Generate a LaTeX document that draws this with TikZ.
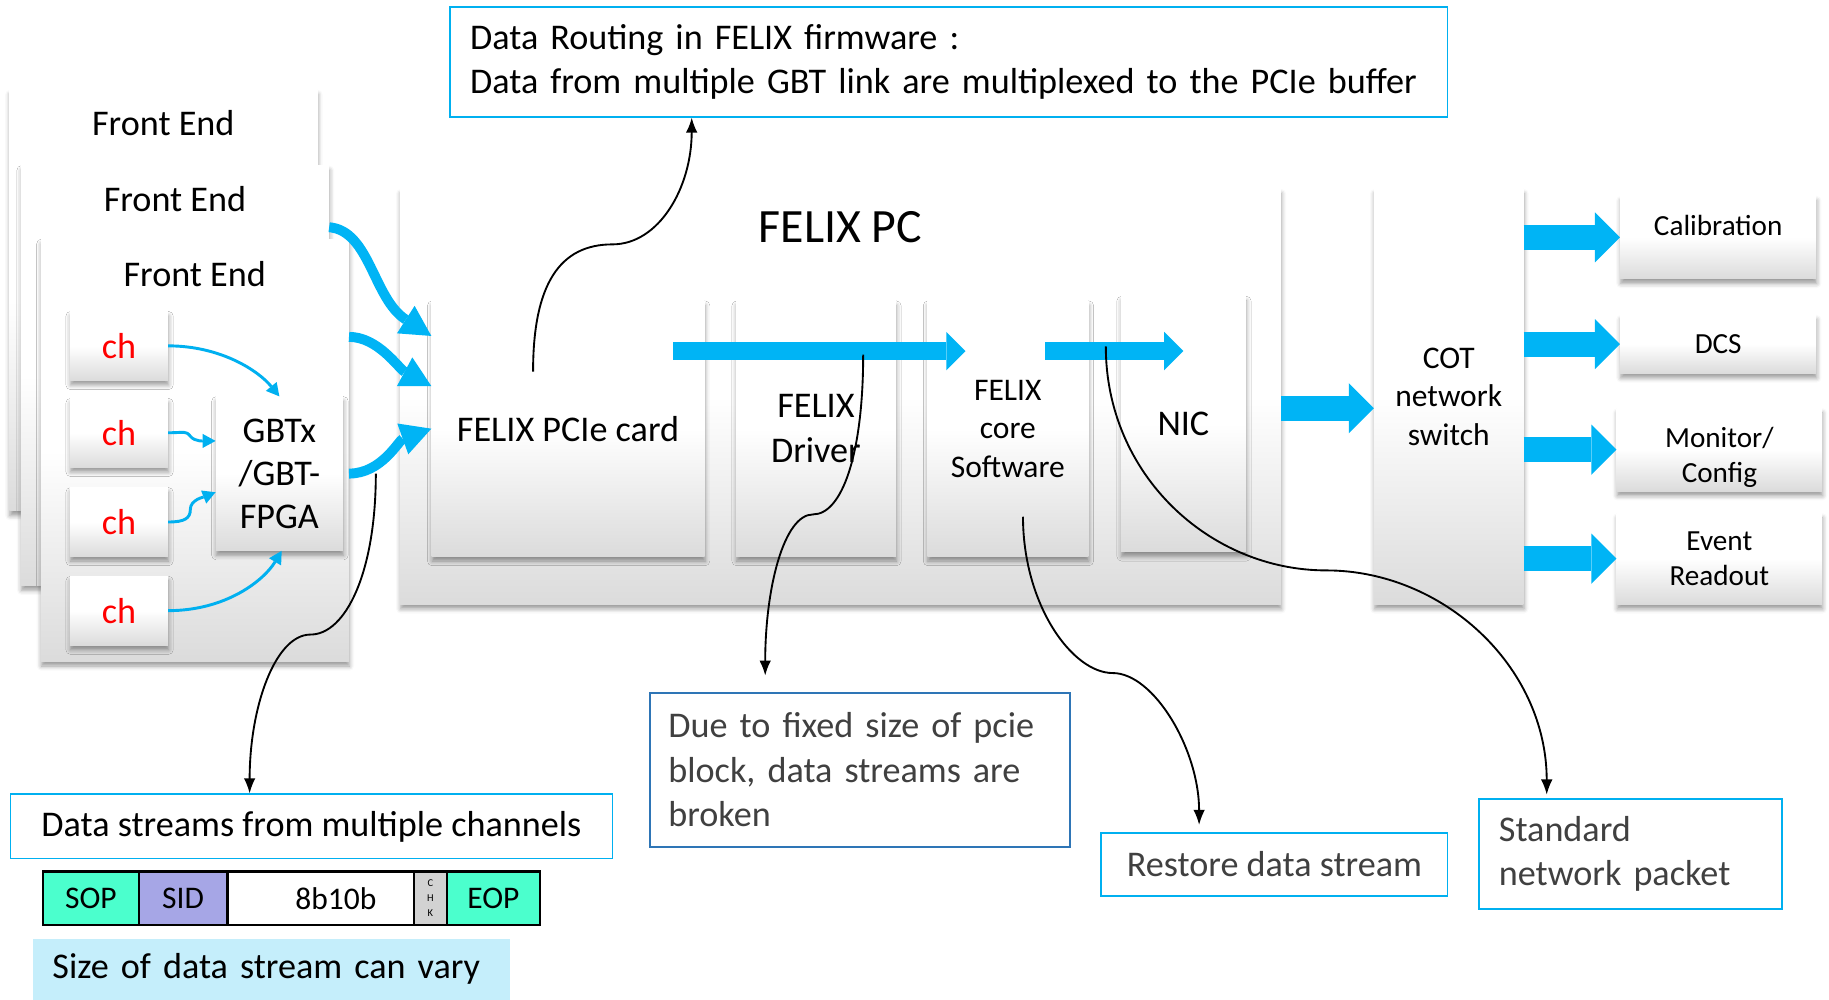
\documentclass[tikz,border=0pt]{standalone}
\usepackage{fontspec}
\setmainfont{Carlito}
\usetikzlibrary{arrows.meta,shadows.blur}

\definecolor{felixblue}{RGB}{0,180,245}
\definecolor{lineblue}{RGB}{0,176,240}
\definecolor{darkframe}{RGB}{46,117,182}
\definecolor{sopgreen}{RGB}{75,255,205}
\definecolor{sidviolet}{RGB}{166,166,230}
\definecolor{chkgray}{RGB}{210,210,210}
\definecolor{varyblue}{RGB}{197,238,251}
\definecolor{notegray}{RGB}{64,64,64}
\newcommand{\fsz}[2]{\fontsize{#1}{#2}\selectfont}

\begin{document}
\begin{tikzpicture}[x=1pt,y=-1pt]
\tikzstyle{every node}=[font=\fsz{31}{37}]
\tikzstyle{panel}=[top color=white, bottom color=black!14, middle color=white, inner sep=0pt, blur shadow={shadow xshift=0.5pt, shadow yshift=-4pt, shadow blur radius=4pt, shadow opacity=40}]
\tikzstyle{note}=[draw=lineblue, line width=1.5pt, fill=white, inner sep=0pt]
\tikzstyle{field}=[draw=black, line width=2pt, minimum height=46pt, inner sep=0pt, font=\fsz{27}{32}]
\tikzstyle{fat}=[draw=felixblue, line width=15.5pt, -{Triangle[length=16.5pt,width=33pt,line width=0pt]}]
\tikzstyle{fatter}=[draw=felixblue, line width=21.5pt, -{Triangle[length=21.5pt,width=43pt,line width=0pt]}]
\tikzstyle{feed}=[draw=felixblue, line width=8.5pt, -{Triangle[length=26pt,width=28pt,line width=0pt]}]
\tikzstyle{link}=[draw=lineblue, line width=2.5pt, -{Triangle[length=11pt,width=12pt,line width=0pt]}]
\tikzstyle{callout}=[draw=black, line width=1.6pt, -{Latex[length=13pt,width=10pt]}]

\useasboundingbox (0,0) rectangle (1568,857);

%Front Ends
\node[panel, minimum width=264pt, minimum height=361pt] (fe1) at (140,257.5) {};
\node (fe1t) at ([yshift=-29pt]fe1.north) {Front End};
\node[panel, minimum width=264pt, minimum height=360pt] (fe2) at (150,322) {};
\node (fe2t) at ([yshift=-29pt]fe2.north) {Front End};
\node[panel, minimum width=264pt, minimum height=362pt] (fe3) at (167,386) {};
\node (fe3t) at ([yshift=-30pt]fe3.north) {Front End};

\node[panel, minimum width=84pt, minimum height=59pt, text=red] (ch1) at (102,296.5) {ch};
\node[panel, minimum width=84pt, minimum height=59pt, text=red] (ch2) at (102,371) {ch};
\node[panel, minimum width=84pt, minimum height=59pt, text=red] (ch3) at (102,447.5) {ch};
\node[panel, minimum width=84pt, minimum height=59pt, text=red] (ch4) at (102,523.5) {ch};
\node[panel, minimum width=109pt, minimum height=132pt, align=center] (gbt) at (239.5,406) {GBTx\\/GBT-\\FPGA};

%FELIX PC
\node[panel, minimum width=755pt, minimum height=356pt] (pc) at (720.5,340) {};
\node[font=\fsz{41}{49}] (pct) at ([yshift=-33pt]pc.north) {FELIX PC};
\node[panel, minimum width=234pt, minimum height=219pt] (pcie) at (487,367.5) {FELIX PCIe card};
\node[panel, minimum width=137pt, minimum height=219pt, align=center, font=\fsz{31}{38}] (drv) at (699.5,367.5) {FELIX\\Driver};
\node[panel, minimum width=138pt, minimum height=219pt, align=center, font=\fsz{27}{33}] (core) at (864,367.5) {FELIX\\core\\Software};
\node[panel, minimum width=107pt, minimum height=219pt] (nic) at (1014.5,363.5) {NIC};

%Switch und Ausgaenge
\node[panel, minimum width=128pt, minimum height=356pt, align=center, font=\fsz{27}{33}] (sw) at (1242,340) {COT\\network\\switch};
\node[panel, minimum width=168pt, minimum height=71pt] (cal) at (1473,203.5) {};
\node[font=\fsz{25}{30}] (calt) at ([yshift=10.5pt]cal.center) {Calibration};
\node[panel, minimum width=168pt, minimum height=50pt, font=\fsz{25}{30}] (dcs) at (1473,295) {DCS};
\node[panel, minimum width=176pt, minimum height=71pt] (mon) at (1474,385.5) {};
\node[align=center, font=\fsz{25}{30}] (mont) at ([yshift=-7pt]mon.center) {Monitor/\\Config};
\node[panel, minimum width=176pt, minimum height=78pt, align=center, font=\fsz{25}{30}] (evt) at (1474,479) {Event\\Readout};

%Notizen
\node[note, minimum width=855pt, minimum height=94pt, text width=821pt, align=left, font=\fsz{31}{38}] (route) at (813.5,53) {Data Routing in FELIX firmware :\\Data from multiple GBT link are multiplexed to the PCIe buffer};
\node[note, minimum width=516pt, minimum height=55pt] (multi) at (267,708.5) {Data streams from multiple channels};
\node[note, draw=darkframe, minimum width=360pt, minimum height=132pt, text width=328pt, align=left, text=notegray, font=\fsz{31}{38}] (broken) at (737,660) {Due to fixed size of pcie\\block, data streams are\\broken};
\node[note, minimum width=297pt, minimum height=54pt, text=notegray] (restore) at (1092.5,741) {Restore data stream};
\node[note, minimum width=260pt, minimum height=94pt, text width=226pt, align=left, text=notegray, font=\fsz{31}{38}] (std) at (1398,732) {Standard\\network packet};

%Paketformat
\node[field, fill=sopgreen, minimum width=82pt] (sop) at (78,770) {SOP};
\node[field, fill=sidviolet, minimum width=76pt] (sid) at (157,770) {SID};
\node[field, fill=white, minimum width=160pt] (pay) at (275,770) {\hspace*{26pt}8b10b};
\node[field, fill=chkgray, minimum width=28pt, align=center, font=\fsz{9}{13}] (chk) at (369,770) {C\\H\\K};
\node[field, fill=sopgreen, minimum width=80pt] (eop) at (423,770) {EOP};
\node[fill=varyblue, minimum width=409pt, minimum height=52pt, text width=375pt, align=left, inner sep=0pt] (vary) at (232.5,831) {Size of data stream can vary};

%Kanaele -> GBTx
\draw[link] (ch1.east) .. controls +(45,0) and +(-18,-22) .. (gbt.north);
\draw[link] (ch2.east) .. controls +(14,0) and +(-4,-5) .. ++(19,3) .. controls +(4,5) and +(-9,0) .. ([yshift=28pt]gbt.west);
\draw[link] (ch3.east) .. controls +(14,0) and +(0,8) .. ++(19,-11) .. controls +(0,-8) and +(-10,4) .. ([yshift=-16pt]gbt.west);
\draw[link] (ch4.east) .. controls +(50,0) and +(-15,25) .. ([xshift=2pt]gbt.south);

%Front End -> PCIe
\draw[feed] ([yshift=-53pt]fe2.north east) .. controls +(35,3) and +(-50,-32) .. ([yshift=79.5pt]pcie.west);
\draw[feed] ([yshift=-84pt]fe3.north east) .. controls +(25,0) and +(-28,-15) .. ([yshift=36.5pt]pcie.west);
\draw[feed] (gbt.east -| fe3.east) .. controls +(28,0) and +(-28,10) .. (pcie.west);

%Datenfluss
\draw[fat] ([xshift=-27pt,yshift=66.5pt]pcie.east) -- ([xshift=33pt,yshift=66.5pt]core.west);
\draw[fat] ([xshift=-37pt,yshift=66.5pt]core.east) -- ([yshift=62.5pt]nic.center);
\draw[fatter] ([yshift=-10pt]pc.east) -- ([yshift=-10pt]sw.west);
\draw[fatter] (cal.west -| sw.east) -- (cal.west);
\draw[fatter] (dcs.west -| sw.east) -- (dcs.west);
\draw[fatter] (mon.west -| sw.east) -- (mon.west);
\draw[fatter] (evt.west -| sw.east) -- (evt.west);

%Beschriftungspfeile
\draw[callout] ([xshift=-30pt,yshift=49pt]pcie.center) .. controls +(0,-75) and +(-45,0) .. ++(68,-109) .. controls +(40,0) and +(0,60) .. ([xshift=-220.5pt]route.south);
\draw[callout] ([xshift=40.5pt,yshift=63.5pt]drv.center) .. controls +(0,85) and +(25,0) .. ++(-43,137) .. controls +(-25,0) and +(0,-75) .. ([xshift=-81pt,yshift=14pt]broken.north);
\draw[callout] ([xshift=13pt,yshift=-75.5pt]core.center) .. controls +(0,75) and +(-35,0) .. ++(77,134) .. controls +(35,0) and +(0,-65) .. ([xshift=-64.5pt,yshift=6pt]restore.north);
\draw[callout] ([xshift=-66.5pt,yshift=66.5pt]nic.center) .. controls +(0,110) and +(-100,0) .. ++(189,192) .. controls +(100,0) and +(0,-110) .. ([xshift=-72pt,yshift=3pt]std.north);
\draw[callout] ([xshift=28pt]gbt.east) .. controls +(0,85) and +(30,0) .. ++(-56,138) .. controls +(-30,0) and +(0,-75) .. ([xshift=-53pt]multi.north);
\end{tikzpicture}
\end{document}
